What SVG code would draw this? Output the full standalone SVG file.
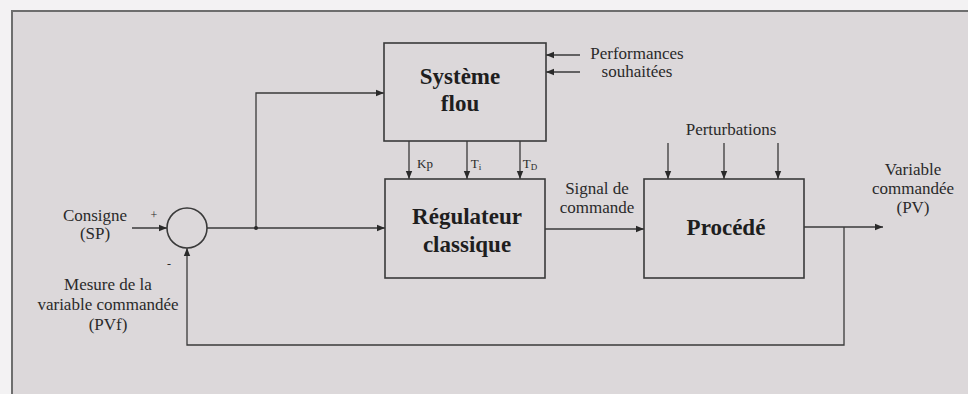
<svg xmlns="http://www.w3.org/2000/svg" width="968" height="394" viewBox="0 0 968 394">
<defs>
<marker id="ah" viewBox="0 0 10 10" refX="10" refY="5" markerWidth="8" markerHeight="8" markerUnits="userSpaceOnUse" orient="auto">
<path d="M0,1 L10,5 L0,9 z" fill="#2a2a2a"/>
</marker>
<style>
.box{fill:#dcd8da;stroke:#3a3a3a;stroke-width:1.6}
.ln{fill:none;stroke:#3a3a3a;stroke-width:1.3}
.ar{fill:none;stroke:#3a3a3a;stroke-width:1.3;marker-end:url(#ah)}
.t{font-family:"Liberation Serif","DejaVu Serif",serif;font-size:17px;fill:#2a2a2a;text-anchor:middle}
.b{font-family:"Liberation Serif","DejaVu Serif",serif;font-size:23px;font-weight:bold;fill:#1e1e1e;text-anchor:middle}
</style>
</defs>
<rect x="0" y="0" width="968" height="394" fill="#f3f2f3"/>
<rect x="12" y="11" width="970" height="400" fill="#dcd8da" stroke="#6e6e6e" stroke-width="2"/>

<g id="connectors">
<path class="ar" d="M132,228 L167,228"/>
<path class="ar" d="M207,228 L385,228"/>
<path class="ar" d="M256,228 L256,93 L384,93"/>
<circle cx="256" cy="228" r="2" fill="#2a2a2a"/>
<path class="ar" d="M409,141 L409,179"/>
<path class="ar" d="M467,141 L467,179"/>
<path class="ar" d="M520,141 L520,179"/>
<path class="ar" d="M580,55 L546,55"/>
<path class="ar" d="M580,72 L546,72"/>
<path class="ar" d="M545,229 L644,229"/>
<path class="ar" d="M668,143 L668,179"/>
<path class="ar" d="M724,143 L724,179"/>
<path class="ar" d="M778,143 L778,179"/>
<path class="ar" d="M804,227 L883,227"/>
<path class="ar" d="M844,227 L844,345 L187,345 L187,248"/>
</g>

<g id="sum">
<circle cx="187" cy="228" r="20" fill="#dcd8da" stroke="#3a3a3a" stroke-width="1.6"/>
<text class="t" x="154" y="219" style="font-size:12px">+</text>
<text class="t" x="169" y="268" style="font-size:12px">-</text>
</g>

<g id="systeme-flou">
<rect class="box" x="384" y="43" width="162" height="98"/>
<text class="b" x="460" y="84">Système</text>
<text class="b" x="460" y="111">flou</text>
</g>

<g id="regulateur">
<rect class="box" x="385" y="179" width="160" height="99"/>
<text class="b" x="467" y="224">Régulateur</text>
<text class="b" x="467" y="252">classique</text>
</g>

<g id="procede">
<rect class="box" x="644" y="179" width="160" height="99"/>
<text class="b" x="726" y="235">Procédé</text>
</g>

<g id="labels">
<text class="t" x="95" y="221">Consigne</text>
<text class="t" x="95" y="239">(SP)</text>
<text class="t" x="108" y="290">Mesure de la</text>
<text class="t" x="108" y="310">variable commandée</text>
<text class="t" x="108" y="330">(PVf)</text>
<text class="t" x="425" y="168" style="font-size:13px">Kp</text>
<text class="t" x="476" y="168" style="font-size:13px">T<tspan dy="2" style="font-size:9px">i</tspan></text>
<text class="t" x="530" y="168" style="font-size:13px">T<tspan dy="2" style="font-size:9px">D</tspan></text>
<text class="t" x="637" y="59">Performances</text>
<text class="t" x="637" y="77">souhaitées</text>
<text class="t" x="597" y="194">Signal de</text>
<text class="t" x="597" y="213">commande</text>
<text class="t" x="731" y="135">Perturbations</text>
<text class="t" x="913" y="175">Variable</text>
<text class="t" x="913" y="194">commandée</text>
<text class="t" x="913" y="213">(PV)</text>
</g>
</svg>
